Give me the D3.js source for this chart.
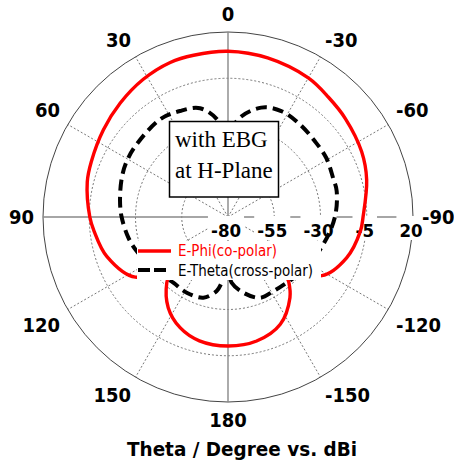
<!DOCTYPE html>
<html>
<head>
<meta charset="utf-8">
<script src="https://cdn.jsdelivr.net/npm/d3@7"></script>
<style>
  html, body { margin: 0; padding: 0; background: #fff; }
  svg { display: block; }
  .lbl { font-family: "DejaVu Sans Condensed", "DejaVu Sans", sans-serif; font-stretch: condensed; font-weight: bold; fill: #000; }
  .leg { font-family: "DejaVu Sans Condensed", "DejaVu Sans", sans-serif; font-stretch: condensed; }
  .box { font-family: "Liberation Serif", "Times New Roman", serif; }
</style>
</head>
<body>
<script>
// ---- data ----
const radialTicks = [-80, -55, -30, -5, 20];
const angleTicks = [0, 30, 60, 90, 120, 150, 180, -150, -120, -90, -60, -30];

// E-Phi (co-polar), theta in degrees, gain in dBi
const ePhiAngles = [-180, -167, -154, -142.5, -137, -130, -122, -109, -96, -90, -75, -64, -50, -40, -30, -14, 0, 12, 20.5, 31.6, 43.5, 55, 68, 76, 90, 96, 108, 123, 130, 137, 146.6, 156.6, 167];
const ePhiGain   = [-10.3, -11.2, -15.5, -25, -31.8, -42, -20.2, -12.2, -8.0, -7.0, -2.4, 0.4, 2.8, 4.5, 6.8, 8.6, 9.6, 9.4, 9.2, 7.4, 4.75, 2.2, -0.3, -1.6, -5.3, -7.2, -11.1, -20.3, -42, -31.5, -21.3, -14.8, -11.3];

// E-Theta (cross-polar)
const eThetaAngles = [-180, -176.8, -168.6, -158.4, -148.5, -138.2, -125, -106, -90, -76.5, -69.5, -58.9, -48.8, -37.7, -26.7, -16.9, -5.2, 0, 5.8, 14.4, 24.4, 34.8, 51.5, 61, 69.7, 81.6, 90, 101.7, 110.4, 125, 140.2, 151.4, 163, 171.3, 174.5];
const eThetaGain   = [-52, -44.4, -38.3, -33, -33, -32.4, -30, -26.4, -22.2, -19.6, -19.4, -18, -17.7, -16.6, -15.9, -18.2, -27.8, -45, -27.8, -19.3, -17.1, -15.7, -16.9, -17.5, -18.8, -21, -22.5, -25, -27.3, -31, -33.8, -33.4, -34.4, -39.5, -44.3];

const seriesNames = ["E-Phi(co-polar)", "E-Theta(cross-polar)"];
const titleText = "Theta / Degree vs. dBi";
const boxLines = ["with EBG", "at H-Plane"];

// ---- layout ----
const W = 454, H = 462;
const cx = 228, cy = 217, R = 185;

const svg = d3.select("body").append("svg").attr("width", W).attr("height", H);
const r = d3.scaleLinear().domain([-80, 20]).range([0, R]);
const toRad = d => -d * Math.PI / 180;

const g = svg.append("g").attr("transform", `translate(${cx},${cy})`);

// grid circles
g.selectAll("circle.grid").data(radialTicks.slice(1, -1)).join("circle")
  .attr("r", d => r(d)).attr("fill", "none")
  .attr("stroke", "#555").attr("stroke-width", 0.8).attr("stroke-dasharray", "2,2");
g.append("circle").attr("r", r(20)).attr("fill", "none").attr("stroke", "#444").attr("stroke-width", 1);

// spokes
const spokeAngles = [30, 60, 120, 150, -150, -120, -60, -30];
g.selectAll("line.spoke").data(spokeAngles).join("line")
  .attr("x1", 0).attr("y1", 0)
  .attr("x2", d => R * Math.sin(toRad(d))).attr("y2", d => -R * Math.cos(toRad(d)))
  .attr("stroke", "#555").attr("stroke-width", 0.8).attr("stroke-dasharray", "2,2");
[[0, -R, 0, R], [-R, 0, R, 0]].forEach(([x1, y1, x2, y2]) => {
  g.append("line").attr("x1", x1).attr("y1", y1).attr("x2", x2).attr("y2", y2)
    .attr("stroke", "#888").attr("stroke-width", 1.4);
});

// radial labels with white background
const rl = g.append("g");
radialTicks.forEach(v => {
  const gg = rl.append("g");
  const t = gg.append("text").attr("class", "lbl").attr("x", r(v) - 2).attr("y", 20)
    .attr("text-anchor", "middle").style("font-size", "18.5px").text(v);
  const bb = t.node().getBBox();
  gg.insert("rect", "text").attr("x", bb.x - 3).attr("y", -1).attr("width", bb.width + 6).attr("height", 24).attr("fill", "#fff");
});

// curves
const line = d3.lineRadial().angle(d => toRad(d[0])).radius(d => r(d[1])).curve(d3.curveCatmullRomClosed.alpha(0.5));
const phiData = ePhiAngles.map((a, i) => [a, ePhiGain[i]]);
const thetaData = eThetaAngles.map((a, i) => [a, eThetaGain[i]]);
g.append("path").datum(phiData).attr("d", line).attr("fill", "none").attr("stroke", "#ff0000").attr("stroke-width", 3.4);
g.append("path").datum(thetaData).attr("d", line).attr("fill", "none").attr("stroke", "#000").attr("stroke-width", 4)
  .attr("stroke-dasharray", "11,6");

// text box
svg.append("rect").attr("x", 169.5).attr("y", 121.5).attr("width", 109).attr("height", 75.5)
  .attr("fill", "#fff").attr("stroke", "#000").attr("stroke-width", 1.5);
boxLines.forEach((s, i) => {
  svg.append("text").attr("class", "box").attr("x", 175).attr("y", 147 + i * 31.3)
    .style("font-size", "23px").text(s);
});

// legend
svg.append("rect").attr("x", 137).attr("y", 241).attr("width", 184).attr("height", 39).attr("fill", "#fff");
svg.append("line").attr("x1", 138).attr("x2", 171).attr("y1", 251).attr("y2", 251).attr("stroke", "#ff0000").attr("stroke-width", 3.5);
svg.append("line").attr("x1", 138).attr("x2", 170).attr("y1", 270).attr("y2", 270).attr("stroke", "#000").attr("stroke-width", 4).attr("stroke-dasharray", "12,4");
svg.append("text").attr("class", "leg").attr("x", 178).attr("y", 256).attr("fill", "#ff0000")
  .style("font-size", "15px").attr("textLength", 99).attr("lengthAdjust", "spacingAndGlyphs").text(seriesNames[0]);
svg.append("text").attr("class", "leg").attr("x", 178).attr("y", 275.5).attr("fill", "#000")
  .style("font-size", "15px").attr("textLength", 135).attr("lengthAdjust", "spacingAndGlyphs").text(seriesNames[1]);

// angle labels
angleTicks.forEach(a => {
  const th = a * Math.PI / 180;
  const s = Math.sin(th), c = Math.cos(th);
  let anchor = "middle", x = cx;
  if (Math.abs(s) > 1e-6) {
    x = cx - 194 * s;
    anchor = s > 0 ? "end" : "start";
  }
  const sg = Math.abs(c) < 1e-6 ? 0 : Math.sign(c);
  const y = cy - (191 * c + 12 * sg);
  svg.append("text").attr("class", "lbl").attr("x", x).attr("y", y).attr("dy", "0.36em")
    .attr("text-anchor", anchor).style("font-size", "20px").text(a);
});

// title
svg.append("text").attr("class", "lbl").attr("x", 127).attr("y", 456)
  .style("font-size", "19px").attr("textLength", 230).attr("lengthAdjust", "spacingAndGlyphs").text(titleText);
</script>
</body>
</html>
